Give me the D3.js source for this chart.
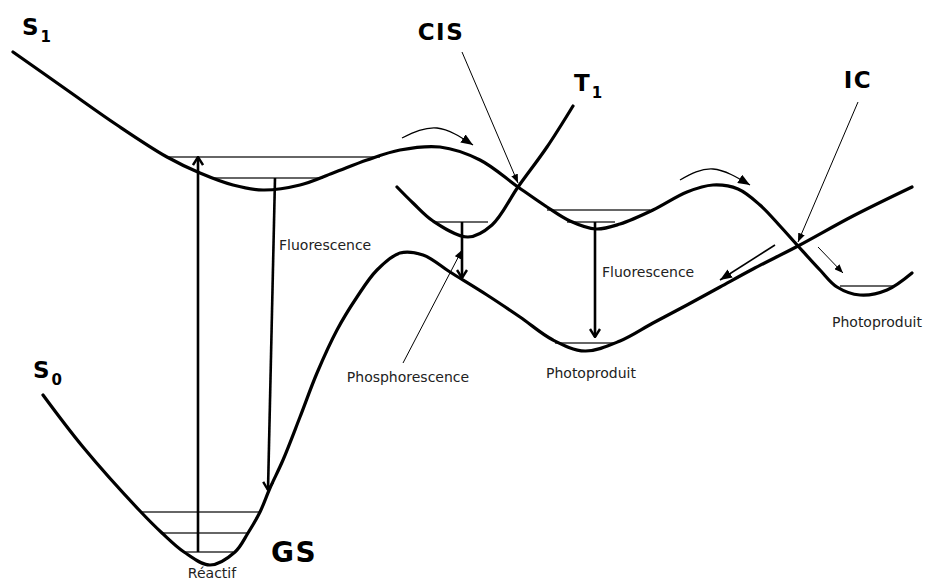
<!DOCTYPE html>
<html>
<head>
<meta charset="utf-8">
<script src="https://cdn.jsdelivr.net/npm/d3@7"></script>
<style>
  body { margin: 0; background: #fff; }
  svg { display: block; }
  text { font-family: "DejaVu Sans", Verdana, sans-serif; }
</style>
</head>
<body>
<script>
// reaction coordinate (x) vs energy (E), one unit per pixel
var s1Curve = [[13,530],[67,492],[117,457],[167,425],[200,409],[233,397],[263,392],[300,397],
  [333,409],[367,422],[400,432],[440,435],[480,422],[518,395],[547,375],[570,361],[596,353],
  [620,358],[653,372],[687,390],[713,397],[738,393],[760,377],[780,356],[798,336],[820,312],
  [837,295],[860,287],[887,292],[912,309]];
var t1Curve = [[397,395],[413,379],[433,361],[468,345],[492,357],[518,395],[547,435],[573,476]];
var s0Curve = [[43,187],[83,135],[140,71],[162,49],[184,30],[210,17],[235,30],[248,49],[260,70],
  [270,94],[283,122],[300,165],[317,209],[337,252],[357,285],[377,312],[400,329],[423,327],
  [450,310],[487,287],[520,265],[553,242],[585,231],[620,241],[653,259],[687,277],[720,295],
  [753,313],[798,336],[853,366],[912,395]];

// vibrational levels
var levelE    = [425, 404, 360, 372, 360, 296, 70, 49, 30, 239];
var levelFrom = [165, 210, 433, 547, 567, 840, 140, 162, 184, 555];
var levelTo   = [380, 323, 488, 650, 615, 893, 260, 248, 233, 617];

// radiative transitions: [x0, E0, x1, E1]
var transitions = [
  [198, 30, 198, 425],   // absorption
  [275, 404, 268, 92],   // fluorescence
  [462, 360, 462, 304],  // phosphorescence
  [595, 360, 595, 245]   // fluorescence
];

// annotation pointers: [x0, E0, x1, E1, weight]
var pointers = [
  [462, 530, 518, 399, 1],   // CIS
  [858, 480, 798, 340, 1],   // IC
  [403, 219, 462, 332, 1],   // phosphorescence
  [775, 337, 720, 302, 1.6],
  [818, 335, 843, 309, 1]
];

// curved flow arrows
var flows = [
  [[402,444],[437,454],[473,437]],
  [[680,402],[713,413],[750,397]]
];

var bigLabels = [
  {text: 'S', sub: '1', x: 22, e: 547, anchor: 'start'},
  {text: 'S', sub: '0', x: 33, e: 204, anchor: 'start'},
  {text: 'T', sub: '1', x: 574, e: 491, anchor: 'start'},
  {text: 'CIS', x: 441, e: 542, anchor: 'middle'},
  {text: 'IC', x: 858, e: 494, anchor: 'middle'},
  {text: 'GS', x: 294, e: 20, anchor: 'middle', big: true}
];
var smallLabels = [
  {text: 'Fluorescence', x: 279, e: 332, anchor: 'start'},
  {text: 'Fluorescence', x: 602, e: 305, anchor: 'start'},
  {text: 'Phosphorescence', x: 408, e: 200, anchor: 'middle'},
  {text: 'Photoproduit', x: 591, e: 204, anchor: 'middle'},
  {text: 'Photoproduit', x: 877, e: 255, anchor: 'middle'},
  {text: 'Réactif', x: 212, e: 4, anchor: 'middle'}
];

var w = 928, h = 582;
var x = d3.scaleLinear().domain([0, 928]).range([0, w]);
var y = d3.scaleLinear().domain([0, 582]).range([h, 0]);

var svg = d3.select('body').append('svg')
  .attr('width', w).attr('height', h);
svg.append('rect').attr('width', w).attr('height', h).attr('fill', 'white');

var defs = svg.append('defs');
defs.append('marker')
  .attr('id', 'open')
  .attr('viewBox', '0 0 10 12')
  .attr('refX', 9).attr('refY', 6)
  .attr('markerWidth', 10).attr('markerHeight', 12)
  .attr('markerUnits', 'userSpaceOnUse')
  .attr('orient', 'auto')
  .append('path')
  .attr('d', 'M1,1 L9,6 L1,11')
  .attr('fill', 'none').attr('stroke', '#000').attr('stroke-width', 2.4);
defs.append('marker')
  .attr('id', 'tri')
  .attr('viewBox', '0 0 10 8')
  .attr('refX', 10).attr('refY', 4)
  .attr('markerWidth', 9).attr('markerHeight', 7)
  .attr('markerUnits', 'userSpaceOnUse')
  .attr('orient', 'auto')
  .append('path')
  .attr('d', 'M0,0 L10,4 L0,8 Z').attr('fill', '#000');
defs.append('marker')
  .attr('id', 'triBig')
  .attr('viewBox', '0 0 10 8')
  .attr('refX', 10).attr('refY', 4)
  .attr('markerWidth', 12).attr('markerHeight', 10)
  .attr('markerUnits', 'userSpaceOnUse')
  .attr('orient', 'auto')
  .append('path')
  .attr('d', 'M0,0 L10,4 L0,8 Z').attr('fill', '#000');

// levels first, under the curves
svg.selectAll('line.level')
  .data(levelE)
  .enter().append('line')
  .attr('class', 'level')
  .attr('x1', function(d, i){ return x(levelFrom[i]); })
  .attr('x2', function(d, i){ return x(levelTo[i]); })
  .attr('y1', function(d){ return y(d); })
  .attr('y2', function(d){ return y(d); })
  .attr('stroke', '#333').attr('stroke-width', 1.3);

var curve = d3.line()
  .x(function(d){ return x(d[0]); })
  .y(function(d){ return y(d[1]); })
  .curve(d3.curveCatmullRom.alpha(0.5));

svg.selectAll('path.state')
  .data([s1Curve, t1Curve, s0Curve])
  .enter().append('path')
  .attr('class', 'state')
  .attr('d', curve)
  .attr('fill', 'none')
  .attr('stroke', '#000')
  .attr('stroke-width', 3.2)
  .attr('stroke-linecap', 'round');

svg.selectAll('line.trans')
  .data(transitions)
  .enter().append('line')
  .attr('class', 'trans')
  .attr('x1', function(d){ return x(d[0]); })
  .attr('y1', function(d){ return y(d[1]); })
  .attr('x2', function(d){ return x(d[2]); })
  .attr('y2', function(d){ return y(d[3]); })
  .attr('stroke', '#000').attr('stroke-width', 2.6)
  .attr('marker-end', 'url(#open)');

svg.selectAll('line.pointer')
  .data(pointers)
  .enter().append('line')
  .attr('class', 'pointer')
  .attr('x1', function(d){ return x(d[0]); })
  .attr('y1', function(d){ return y(d[1]); })
  .attr('x2', function(d){ return x(d[2]); })
  .attr('y2', function(d){ return y(d[3]); })
  .attr('stroke', '#000')
  .attr('stroke-width', function(d){ return d[4]; })
  .attr('marker-end', function(d){ return d[4] > 1 ? 'url(#triBig)' : 'url(#tri)'; });

svg.selectAll('path.flow')
  .data(flows)
  .enter().append('path')
  .attr('class', 'flow')
  .attr('d', d3.line()
    .x(function(d){ return x(d[0]); })
    .y(function(d){ return y(d[1]); })
    .curve(d3.curveNatural))
  .attr('fill', 'none')
  .attr('stroke', '#000').attr('stroke-width', 1.3)
  .attr('marker-end', 'url(#triBig)');

var big = svg.selectAll('text.big')
  .data(bigLabels)
  .enter().append('text')
  .attr('class', 'big')
  .attr('x', function(d){ return x(d.x); })
  .attr('y', function(d){ return y(d.e); })
  .attr('text-anchor', function(d){ return d.anchor; })
  .attr('font-weight', 'bold')
  .attr('font-size', function(d){ return d.big ? 28 : 23; })
  .attr('letter-spacing', function(d){ return d.sub ? 0 : 1.5; })
  .attr('fill', '#000');
big.append('tspan').text(function(d){ return d.text; });
big.filter(function(d){ return d.sub; })
  .append('tspan')
  .attr('dx', 2).attr('dy', 7)
  .attr('font-size', 15)
  .text(function(d){ return d.sub; });

svg.selectAll('text.small')
  .data(smallLabels)
  .enter().append('text')
  .attr('class', 'small')
  .attr('x', function(d){ return x(d.x); })
  .attr('y', function(d){ return y(d.e); })
  .attr('text-anchor', function(d){ return d.anchor; })
  .attr('font-size', 14)
  .attr('fill', '#222')
  .text(function(d){ return d.text; });
</script>
</body>
</html>
